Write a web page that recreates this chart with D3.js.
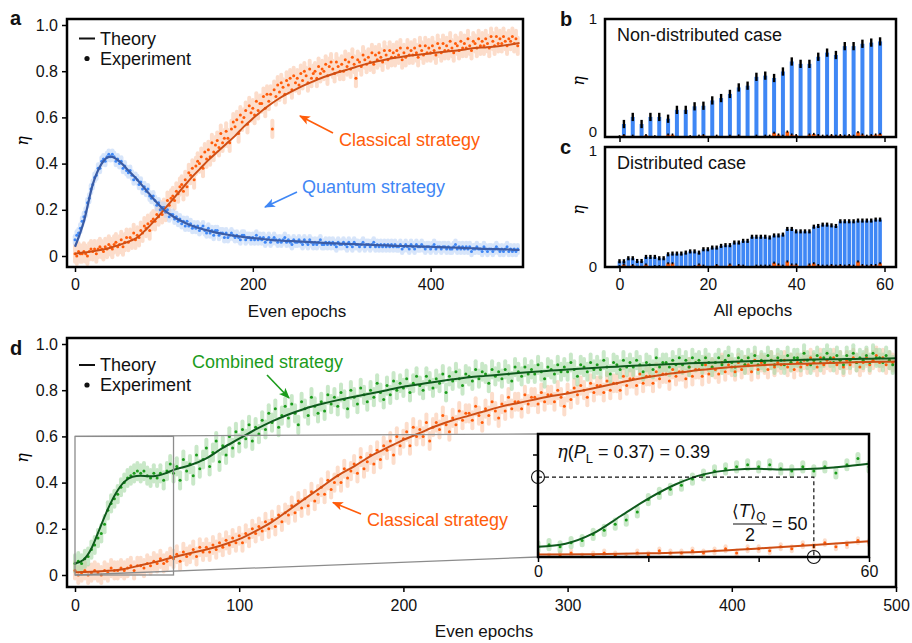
<!DOCTYPE html>
<html>
<head>
<meta charset="utf-8">
<script src="https://cdn.jsdelivr.net/npm/d3@7"></script>
<style>
  body { margin: 0; background: #fff; }
  svg { font-family: "Liberation Sans", Arial, sans-serif; }
</style>
</head>
<body>
<svg width="912" height="643"></svg>
<script>
// ---------- data ----------
var evenEpochs = d3.range(0, 500, 2);
var theoryEpochs = d3.range(0, 501, 10);
var combinedTheoryEpochs = [0, 5, 10, 15, 20, 25, 30, 35, 40, 45, 50, 55, 60].concat(d3.range(70, 501, 10));
var allEpochs = d3.range(0, 60);
var oddEpochs = d3.range(1, 60, 2);

// panel a, theory
var theoryAClassical = [0.01, 0.015, 0.02, 0.027, 0.036, 0.048, 0.062, 0.08, 0.115, 0.155, 0.2,
  0.245, 0.29, 0.335, 0.375, 0.415, 0.45, 0.485, 0.52, 0.56, 0.595, 0.628, 0.657, 0.683, 0.705, 0.725,
  0.743, 0.759, 0.775, 0.788, 0.8, 0.811, 0.823, 0.834, 0.843, 0.851, 0.858, 0.864, 0.869, 0.873, 0.877,
  0.882, 0.886, 0.89, 0.895, 0.9, 0.903, 0.906, 0.91, 0.916, 0.922];
var theoryAQuantum = [0.04, 0.15, 0.31, 0.4, 0.43, 0.41, 0.37, 0.33, 0.285, 0.24, 0.2,
  0.172, 0.15, 0.133, 0.12, 0.11, 0.1, 0.093, 0.087, 0.082, 0.078, 0.074, 0.07, 0.067, 0.065, 0.063,
  0.061, 0.059, 0.057, 0.055, 0.053, 0.052, 0.05, 0.049, 0.047, 0.046, 0.044, 0.043, 0.042, 0.041, 0.04,
  0.038, 0.037, 0.036, 0.034, 0.033, 0.031, 0.03, 0.029, 0.028, 0.026];

// panel a, experiment (even epochs)
var expAQuantum = [
  .07,.09,.10,.12,.15,.17,.19,.23,.25,.29,.31,.34,.35,.38,.38,.41,.42,.41,.43,.44,.43,.44,.43,.41,.42,
  .40,.41,.38,.39,.37,.36,.37,.35,.33,.34,.33,.31,.32,.29,.30,.28,.29,.26,.25,.26,.24,.22,.23,.20,.21,
  .21,.19,.20,.17,.18,.18,.16,.17,.15,.16,.14,.15,.13,.15,.13,.14,.12,.13,.12,.13,.11,.12,.13,.11,.10,
  .12,.10,.11,.09,.11,.11,.09,.10,.10,.08,.10,.08,.09,.10,.09,.08,.09,.08,.07,.09,.09,.07,.08,.08,.07,
  .08,.07,.09,.07,.08,.07,.08,.06,.07,.08,.06,.07,.08,.07,.06,.07,.06,.07,.08,.06,.07,.06,.05,.07,.06,
  .06,.07,.06,.05,.07,.06,.05,.07,.06,.05,.06,.05,.06,.07,.05,.05,.06,.05,.06,.05,.06,.05,.04,.06,.05,
  .05,.06,.05,.04,.06,.05,.04,.06,.05,.05,.04,.05,.06,.04,.05,.05,.04,.05,.06,.04,.05,.04,.05,.04,.05,
  .04,.05,.04,.05,.04,.05,.04,.04,.05,.03,.04,.05,.04,.03,.05,.04,.03,.05,.04,.04,.05,.04,.03,.04,.04,
  .03,.04,.05,.03,.04,.04,.03,.04,.04,.03,.04,.03,.03,.04,.05,.03,.04,.03,.04,.03,.04,.03,.04,.02,.03,
  .03,.04,.03,.03,.02,.04,.03,.02,.03,.03,.02,.03,.04,.03,.02,.03,.02,.03,.04,.02,.03,.02,.03,.02,.03];
var expAClassical = [
  .01,.00,.02,.01,.01,.02,.01,.00,.02,.03,.02,.03,.01,.03,.04,.03,.02,.04,.03,.05,.04,.03,.05,.06,.04,
  .05,.07,.04,.06,.08,.06,.08,.07,.10,.07,.09,.08,.11,.10,.13,.12,.14,.11,.15,.16,.15,.18,.17,.20,.18,
  .21,.19,.24,.22,.25,.26,.24,.28,.27,.30,.31,.28,.33,.30,.36,.35,.38,.33,.39,.41,.40,.43,.38,.45,.42,
  .46,.43,.49,.45,.48,.50,.47,.53,.49,.51,.54,.51,.49,.55,.58,.56,.59,.53,.61,.58,.60,.63,.57,.65,.62,
  .64,.61,.67,.63,.66,.66,.69,.64,.70,.67,.70,.55,.72,.69,.74,.71,.75,.73,.70,.76,.74,.77,.72,.78,.75,
  .77,.74,.79,.76,.80,.78,.75,.81,.77,.79,.80,.77,.82,.79,.81,.80,.83,.78,.82,.84,.81,.79,.84,.82,.80,
  .83,.80,.85,.82,.84,.81,.86,.83,.77,.85,.84,.82,.87,.85,.83,.86,.84,.88,.83,.87,.85,.88,.86,.84,.89,
  .87,.85,.89,.86,.88,.86,.89,.87,.90,.85,.88,.86,.90,.87,.89,.87,.90,.88,.86,.91,.89,.87,.91,.88,.90,
  .88,.91,.89,.87,.92,.90,.88,.92,.89,.91,.89,.93,.90,.88,.92,.91,.89,.93,.90,.92,.90,.94,.91,.89,.93,
  .92,.90,.94,.91,.93,.91,.94,.92,.90,.95,.93,.91,.95,.92,.94,.92,.95,.93,.91,.94,.93,.95,.92,.94,.91];

// panels b and c
var barsBQuantum = [0.11, 0.17, 0.11, 0.17, 0.17, 0.155, 0.23, 0.23, 0.26, 0.265, 0.31, 0.33, 0.365, 0.42, 0.435,
  0.51, 0.52, 0.5, 0.555, 0.64, 0.62, 0.62, 0.68, 0.715, 0.695, 0.77, 0.77, 0.79, 0.8, 0.81];
var barsBClassical = [0.005, 0.015, 0, 0.01, 0, 0, 0.015, 0, 0.005, 0, 0, 0.02, 0.02, 0, 0, 0, 0.005, 0, 0.01, 0.015,
  0, 0, 0.01, 0, 0, 0.01, 0, 0.012, 0, 0, 0, 0.01, 0, 0.01, 0.01, 0.035, 0.02, 0.01, 0.045, 0.02,
  0.015, 0, 0, 0.02, 0.025, 0.015, 0.01, 0.01, 0.015, 0.01, 0.015, 0.01, 0.015, 0.01, 0.04, 0.02, 0.01, 0.015, 0.02, 0.025];
var barsCQuantum = [0.048, 0.048, 0.073, 0.073, 0.05, 0.05, 0.084, 0.084, 0.084, 0.073, 0.073, 0.106, 0.112, 0.112, 0.112,
  0.12, 0.13, 0.13, 0.12, 0.148, 0.148, 0.162, 0.162, 0.176, 0.182, 0.182, 0.204, 0.204, 0.218, 0.218,
  0.252, 0.252, 0.252, 0.252, 0.246, 0.263, 0.263, 0.27, 0.317, 0.317, 0.297, 0.297, 0.297, 0.297, 0.336,
  0.342, 0.353, 0.353, 0.347, 0.342, 0.381, 0.381, 0.381, 0.381, 0.387, 0.387, 0.387, 0.387, 0.395, 0.395];
var barsCClassical = [0.005, 0.02, 0, 0.015, 0, 0, 0.02, 0, 0.005, 0.005, 0, 0.03, 0.03, 0, 0, 0, 0, 0.005, 0.02, 0.01,
  0, 0, 0.015, 0, 0, 0.02, 0, 0.015, 0.01, 0, 0, 0.01, 0.01, 0.01, 0.01, 0.035, 0.02, 0.01, 0.045, 0.02,
  0.02, 0, 0, 0.02, 0.03, 0.015, 0.01, 0.01, 0.015, 0.01, 0.015, 0.01, 0.015, 0.01, 0.045, 0.015, 0.01, 0.015, 0.015, 0.03];

// panel d, theory
var theoryDCombined = [0.05, 0.065, 0.115, 0.2, 0.285, 0.355, 0.403, 0.425, 0.43, 0.427, 0.43, 0.44, 0.455,
  0.475, 0.505, 0.55, 0.59, 0.63, 0.665, 0.695, 0.72, 0.74, 0.757, 0.772, 0.786, 0.8, 0.815, 0.826, 0.837,
  0.847, 0.856, 0.862, 0.868, 0.874, 0.88, 0.885, 0.89, 0.894, 0.898, 0.902, 0.906, 0.909, 0.912, 0.915,
  0.918, 0.92, 0.923, 0.925, 0.927, 0.929, 0.931, 0.933, 0.934, 0.935, 0.936, 0.937, 0.938];
var theoryDClassical = [0.012, 0.014, 0.018, 0.026, 0.042, 0.058, 0.077, 0.094, 0.11, 0.13, 0.155,
  0.19, 0.23, 0.28, 0.33, 0.38, 0.43, 0.47, 0.515, 0.55, 0.585, 0.615, 0.645, 0.67, 0.69, 0.71,
  0.73, 0.745, 0.76, 0.775, 0.786, 0.8, 0.815, 0.83, 0.845, 0.858, 0.869, 0.878, 0.887, 0.894, 0.9,
  0.905, 0.909, 0.912, 0.914, 0.916, 0.918, 0.92, 0.922, 0.923, 0.924];

// panel d, experiment (even epochs)
var expDCombined = [
  .05,.06,.05,.07,.08,.11,.13,.16,.18,.22,.28,.31,.33,.35,.38,.40,.42,.43,.44,.45,.44,.45,.43,.42,.44,
  .42,.44,.41,.45,.48,.44,.47,.41,.50,.45,.48,.43,.52,.46,.50,.55,.47,.53,.58,.49,.56,.52,.60,.55,.62,
  .57,.63,.59,.65,.58,.64,.61,.67,.63,.70,.66,.72,.64,.69,.73,.68,.74,.70,.65,.75,.72,.69,.77,.73,.70,
  .75,.71,.78,.74,.77,.73,.79,.76,.72,.80,.77,.74,.81,.78,.75,.80,.77,.83,.79,.76,.82,.78,.84,.80,.83,
  .81,.85,.79,.83,.86,.82,.80,.86,.84,.81,.85,.83,.87,.79,.86,.84,.88,.85,.82,.87,.86,.84,.89,.85,.88,
  .87,.83,.89,.86,.88,.85,.89,.87,.84,.90,.88,.86,.90,.87,.89,.87,.91,.88,.85,.90,.89,.87,.91,.88,.90,
  .88,.92,.89,.86,.91,.90,.88,.92,.89,.91,.89,.93,.90,.87,.92,.91,.89,.93,.90,.92,.90,.93,.91,.88,.92,
  .91,.89,.94,.90,.92,.92,.90,.93,.91,.94,.91,.93,.90,.94,.92,.93,.91,.94,.92,.90,.92,.94,.91,.93,.95,
  .92,.90,.94,.93,.91,.94,.92,.95,.91,.93,.92,.95,.93,.91,.94,.93,.91,.95,.92,.94,.94,.92,.96,.93,.91,
  .93,.95,.92,.94,.96,.94,.92,.95,.93,.91,.95,.93,.96,.92,.94,.93,.95,.92,.96,.94,.94,.92,.95,.93,.91];
var expDClassical = [
  .02,.00,.01,.02,.00,.01,.02,.01,.00,.02,.01,.03,.02,.02,.03,.02,.03,.04,.02,.04,.04,.03,.05,.04,.06,
  .05,.07,.05,.06,.08,.07,.09,.06,.10,.08,.09,.11,.08,.12,.10,.12,.10,.13,.11,.14,.12,.15,.13,.16,.14,
  .17,.14,.18,.16,.20,.18,.21,.19,.23,.20,.24,.21,.26,.23,.27,.26,.30,.27,.32,.29,.33,.30,.36,.32,.35,
  .38,.35,.41,.37,.40,.43,.40,.46,.42,.45,.48,.44,.51,.46,.49,.52,.48,.54,.50,.56,.54,.58,.52,.60,.56,
  .59,.62,.56,.64,.60,.63,.60,.66,.58,.64,.66,.63,.69,.65,.62,.68,.65,.71,.67,.70,.70,.67,.73,.69,.66,
  .72,.69,.75,.71,.68,.74,.71,.77,.72,.75,.75,.72,.78,.74,.77,.77,.74,.79,.75,.78,.78,.75,.80,.77,.73,
  .79,.76,.81,.78,.82,.80,.77,.83,.79,.82,.82,.79,.84,.80,.83,.83,.80,.86,.82,.85,.85,.82,.87,.83,.86,
  .86,.83,.88,.85,.87,.87,.84,.89,.86,.88,.88,.85,.90,.86,.89,.89,.86,.91,.87,.90,.89,.87,.92,.88,.91,
  .90,.88,.92,.89,.91,.91,.88,.93,.89,.92,.91,.89,.93,.90,.92,.91,.93,.90,.92,.89,.92,.90,.93,.91,.94,
  .92,.90,.94,.91,.93,.92,.94,.91,.93,.90,.93,.91,.94,.92,.90,.92,.94,.91,.93,.95,.92,.94,.91,.93,.92];

var inset = { epoch: 50, eta: 0.39 };

// ---------- style ----------
var blue = "#3f87f5", blueDark = "#3a5ca6", blueHalo = "#bed5f8";
var orange = "#ff5c0a", orangeDark = "#cf4e14", orangeHalo = "#fbc7aa";
var green = "#1c9c1c", greenDark = "#0e5a1c", greenHalo = "#a6d9a5";
var SERIF = "'DejaVu Serif', serif";

var svg = d3.select("svg");
var defs = svg.append("defs");

function marker(id, color) {
  defs
    .append("marker")
    .attr("id", id)
    .attr("viewBox", "0 0 10 10")
    .attr("refX", 9)
    .attr("refY", 5)
    .attr("markerWidth", 11)
    .attr("markerHeight", 11)
    .attr("markerUnits", "userSpaceOnUse")
    .attr("orient", "auto")
    .append("path")
    .attr("d", "M0,1 L10,5 L0,9 L2.5,5 Z")
    .attr("fill", color);
}
marker("arr-orange", orange);
marker("arr-blue", blue);
marker("arr-green", green);

function clip(id, x0, y0, x1, y1) {
  defs
    .append("clipPath")
    .attr("id", id)
    .append("rect")
    .attr("x", x0)
    .attr("y", y0)
    .attr("width", x1 - x0)
    .attr("height", y1 - y0);
}

function frame(x0, y0, x1, y1) {
  svg
    .append("rect")
    .attr("x", x0)
    .attr("y", y0)
    .attr("width", x1 - x0)
    .attr("height", y1 - y0)
    .attr("fill", "none")
    .attr("stroke", "#000")
    .attr("stroke-width", 2.5);
}

function styleAxis(g, size) {
  g.select(".domain").remove();
  g.attr("font-family", null).attr("font-size", size);
  g.selectAll(".tick line").attr("stroke", "#000").attr("stroke-width", 1.5);
  g.selectAll(".tick text").attr("fill", "#111");
}

function etaLabel(x, y) {
  svg
    .append("text")
    .attr("transform", "translate(" + x + "," + y + ") rotate(-90)")
    .attr("text-anchor", "middle")
    .attr("dy", "0.35em")
    .attr("font-family", SERIF)
    .attr("font-style", "italic")
    .attr("font-size", 16)
    .text("η");
}

function text(x, y, str, opts) {
  opts = opts || {};
  return svg
    .append("text")
    .attr("x", x)
    .attr("y", y)
    .attr("font-size", opts.size || 18)
    .attr("font-weight", opts.weight || null)
    .attr("text-anchor", opts.anchor || "start")
    .attr("fill", opts.color || "#111")
    .text(str);
}

function arrow(x1, y1, x2, y2, color, id) {
  svg
    .append("line")
    .attr("x1", x1)
    .attr("y1", y1)
    .attr("x2", x2)
    .attr("y2", y2)
    .attr("stroke", color)
    .attr("stroke-width", 1.6)
    .attr("marker-end", "url(#" + id + ")");
}

function halos(g, x, y, epochs, vals, err, color, w) {
  g.append("g")
    .attr("opacity", 0.6)
    .selectAll("line")
    .data(vals)
    .enter()
    .append("line")
    .attr("x1", function(d, i) { return x(epochs[i]); })
    .attr("x2", function(d, i) { return x(epochs[i]); })
    .attr("y1", function(d) { return y(d - err); })
    .attr("y2", function(d) { return y(d + err); })
    .attr("stroke", color)
    .attr("stroke-width", w)
    .attr("stroke-linecap", "round");
}

function dots(g, x, y, epochs, vals, color, r) {
  g.append("g")
    .selectAll("circle")
    .data(vals)
    .enter()
    .append("circle")
    .attr("cx", function(d, i) { return x(epochs[i]); })
    .attr("cy", function(d) { return y(d); })
    .attr("r", r)
    .attr("fill", color);
}

function theory(g, x, y, epochs, vals, color, w) {
  var line = d3
    .line()
    .x(function(d, i) { return x(epochs[i]); })
    .y(function(d) { return y(d); })
    .curve(d3.curveMonotoneX);
  g.append("path")
    .datum(vals)
    .attr("d", line)
    .attr("fill", "none")
    .attr("stroke", color)
    .attr("stroke-width", w);
}

function legend(x, y) {
  svg.append("line").attr("x1", x).attr("x2", x + 16).attr("y1", y).attr("y2", y)
    .attr("stroke", "#111").attr("stroke-width", 2);
  text(x + 21, y + 6, "Theory");
  svg.append("circle").attr("cx", x + 8).attr("cy", y + 20).attr("r", 2.6).attr("fill", "#111");
  text(x + 21, y + 26, "Experiment");
}

// ---------- panel a ----------
var xA = d3.scaleLinear().domain([0, 500]).range([75, 519.5]);
var yA = d3.scaleLinear().domain([0, 1]).range([256, 25]);
clip("clipA", 67, 19, 523, 267);
var gA = svg.append("g").attr("clip-path", "url(#clipA)");

halos(gA, xA, yA, evenEpochs, expAClassical, 0.035, orangeHalo, 4);
halos(gA, xA, yA, evenEpochs, expAQuantum, 0.016, blueHalo, 4.5);
dots(gA, xA, yA, evenEpochs, expAClassical, orange, 1.5);
dots(gA, xA, yA, evenEpochs, expAQuantum, blue, 1.5);
theory(gA, xA, yA, theoryEpochs, theoryAClassical, orangeDark, 2);
theory(gA, xA, yA, theoryEpochs, theoryAQuantum, blueDark, 2.2);

svg.append("g").attr("transform", "translate(67,0)")
  .call(d3.axisLeft(yA).tickValues([0, 0.2, 0.4, 0.6, 0.8, 1]).tickSize(5).tickPadding(4)
    .tickFormat(function(d) { return d === 0 ? "0" : d3.format(".1f")(d); }))
  .call(styleAxis, 16);
svg.append("g").attr("transform", "translate(0,267)")
  .call(d3.axisBottom(xA).tickValues([0, 200, 400]).tickSize(5).tickPadding(7))
  .call(styleAxis, 16);
frame(67, 19, 523, 267);
etaLabel(22, 141);
text(297, 317, "Even epochs", { size: 17, anchor: "middle" });
legend(79, 38.5);
text(339, 146, "Classical strategy", { color: orange });
arrow(333, 133, 300, 116, orange, "arr-orange");
text(302, 193, "Quantum strategy", { color: blue });
arrow(297, 192, 265, 207, blue, "arr-blue");
text(10, 25, "a", { size: 20, weight: "bold" });

// ---------- panels b, c ----------
var xBC = d3.scaleLinear().domain([0, 60]).range([619.5, 884.5]);
var step = xBC(1) - xBC(0);

function barPanel(top, bottom, quantEpochs, quantVals, quantW, quantErr, classVals, title, letter, showLabels) {
  var y = d3.scaleLinear().domain([0, 1]).range([bottom, top]);
  var g = svg.append("g");

  g.append("g").selectAll("rect").data(quantVals).enter().append("rect")
    .attr("x", function(d, i) { return xBC(quantEpochs[i]) - quantW / 2; })
    .attr("width", quantW)
    .attr("y", function(d) { return y(d); })
    .attr("height", function(d) { return y(0) - y(d); })
    .attr("fill", blue);
  g.append("g").selectAll("rect").data(quantVals).enter().append("rect")
    .attr("x", function(d, i) { return xBC(quantEpochs[i]) - 1.2; })
    .attr("width", 2.4)
    .attr("y", function(d) { return y(d + quantErr); })
    .attr("height", function(d) { return y(d - quantErr) - y(d + quantErr); })
    .attr("fill", "#000");

  var cls = classVals.filter(function(d) { return d > 0; });
  var clsEp = allEpochs.filter(function(e, i) { return classVals[i] > 0; });
  g.append("g").selectAll("rect").data(cls).enter().append("rect")
    .attr("x", function(d, i) { return xBC(clsEp[i]) - 1.8; })
    .attr("width", 3.6)
    .attr("y", function(d) { return y(d); })
    .attr("height", function(d) { return y(0) - y(d); })
    .attr("fill", orange);
  g.append("g").selectAll("rect").data(cls).enter().append("rect")
    .attr("x", function(d, i) { return xBC(clsEp[i]) - 0.8; })
    .attr("width", 1.6)
    .attr("y", function(d) { return y(d + 0.01); })
    .attr("height", function(d) { return y(Math.max(0, d - 0.008)) - y(d + 0.01); })
    .attr("fill", "#000");

  var ay = svg.append("g").attr("transform", "translate(605,0)")
    .call(d3.axisLeft(y).tickValues([0, 1]).tickSize(0).tickPadding(8).tickFormat(d3.format("d")))
    .call(styleAxis, 15);
  // keep the "0" of b and the "1" of c apart, as in the figure
  if (!showLabels) ay.selectAll(".tick text").filter(function(d) { return d === 0; }).attr("y", -5);
  else ay.selectAll(".tick text").filter(function(d) { return d === 1; }).attr("y", 4);

  var ax = svg.append("g").attr("transform", "translate(0," + bottom + ")")
    .call(d3.axisBottom(xBC).tickValues([0, 20, 40, 60]).tickSize(5).tickPadding(7))
    .call(styleAxis, 16);
  if (!showLabels) ax.selectAll(".tick text").remove();

  frame(605, top, 896, bottom);
  text(617, top + 22, title);
  text(560, top + 7, letter, { size: 20, weight: "bold" });
  etaLabel(578, (top + bottom) / 2 + 3);
}

barPanel(19, 137, oddEpochs, barsBQuantum, 4, 0.035, barsBClassical, "Non-distributed case", "b", false);
barPanel(147, 267, allEpochs, barsCQuantum, step - 0.8, 0.017, barsCClassical, "Distributed case", "c", true);
text(753, 316, "All epochs", { size: 17, anchor: "middle" });

// ---------- panel d ----------
var xD = d3.scaleLinear().domain([0, 500]).range([75, 896]);
var yD = d3.scaleLinear().domain([0, 1]).range([575, 344]);
clip("clipD", 67, 338, 896, 587);
var gD = svg.append("g").attr("clip-path", "url(#clipD)");

halos(gD, xD, yD, evenEpochs, expDClassical, 0.035, orangeHalo, 4);
halos(gD, xD, yD, evenEpochs, expDCombined, 0.035, greenHalo, 4);
dots(gD, xD, yD, evenEpochs, expDClassical, orange, 1.5);
dots(gD, xD, yD, evenEpochs, expDCombined, green, 1.5);
theory(gD, xD, yD, theoryEpochs, theoryDClassical, orangeDark, 2);
theory(gD, xD, yD, combinedTheoryEpochs, theoryDCombined, greenDark, 2);

svg.append("g").attr("transform", "translate(67,0)")
  .call(d3.axisLeft(yD).tickValues([0, 0.2, 0.4, 0.6, 0.8, 1]).tickSize(5).tickPadding(4)
    .tickFormat(function(d) { return d === 0 ? "0" : d3.format(".1f")(d); }))
  .call(styleAxis, 16);
svg.append("g").attr("transform", "translate(0,587)")
  .call(d3.axisBottom(xD).tickValues([0, 100, 200, 300, 400, 500]).tickSize(5).tickPadding(8))
  .call(styleAxis, 16);

// zoom box and connectors
var zx1 = xD(60), zy0 = yD(0.6), zy1 = yD(0);
var inX = d3.scaleLinear().domain([0, 60]).range([538, 869]);
var inY = d3.scaleLinear().domain([0, 0.6]).range([557, 434]);
svg.append("rect").attr("x", xD(0)).attr("y", zy0).attr("width", zx1 - xD(0)).attr("height", zy1 - zy0)
  .attr("fill", "none").attr("stroke", "#8c8c8c").attr("stroke-width", 1.3);
svg.append("line").attr("x1", xD(0)).attr("y1", zy0).attr("x2", inX(0)).attr("y2", inY(0.6))
  .attr("stroke", "#8c8c8c").attr("stroke-width", 1.3);
svg.append("line").attr("x1", xD(0)).attr("y1", zy1).attr("x2", inX(0)).attr("y2", inY(0))
  .attr("stroke", "#8c8c8c").attr("stroke-width", 1.3);

frame(67, 338, 896, 587);
etaLabel(22, 458);
text(484, 637, "Even epochs", { size: 17, anchor: "middle" });
legend(79, 365);
text(192, 368, "Combined strategy", { color: green });
arrow(267, 375, 289, 398, green, "arr-green");
text(367, 526, "Classical strategy", { color: orange });
arrow(361, 514, 333, 502.5, orange, "arr-orange");
text(10, 355, "d", { size: 20, weight: "bold" });

// ---------- inset ----------
svg.append("rect").attr("x", 538).attr("y", 434).attr("width", 331).attr("height", 123).attr("fill", "#fff");
clip("clipIn", 538, 434, 869, 557);
var gIn = svg.append("g").attr("clip-path", "url(#clipIn)");
var inEp = evenEpochs.filter(function(e) { return e <= 60; });
var inComb = expDCombined.slice(0, inEp.length);
var inClass = expDClassical.slice(0, inEp.length);
halos(gIn, inX, inY, inEp, inClass, 0.012, orangeHalo, 4);
halos(gIn, inX, inY, inEp, inComb, 0.02, greenHalo, 5);
dots(gIn, inX, inY, inEp, inClass, orange, 1.5);
dots(gIn, inX, inY, inEp, inComb, green, 1.5);
var thEpIn = theoryEpochs.filter(function(e) { return e <= 60; });
theory(gIn, inX, inY, thEpIn, theoryDClassical.slice(0, thEpIn.length), orangeDark, 2);
var cEpIn = combinedTheoryEpochs.filter(function(e) { return e <= 60; });
theory(gIn, inX, inY, cEpIn, theoryDCombined.slice(0, cEpIn.length), greenDark, 2);

svg.append("g").attr("transform", "translate(0,557)")
  .call(d3.axisBottom(inX).tickValues([0, 20, 40, 60]).tickSize(5).tickPadding(4)
    .tickFormat(function(d) { return d === 0 || d === 60 ? d : ""; }))
  .call(styleAxis, 16);
svg.append("g").attr("transform", "translate(538,0)")
  .call(d3.axisLeft(inY).tickValues([0.25, 0.5]).tickSize(5).tickFormat(""))
  .call(styleAxis, 16);

// dashed guide
svg.append("path")
  .attr("d", "M" + inX(0) + "," + inY(inset.eta) + "H" + inX(inset.epoch) + "V" + inY(0))
  .attr("fill", "none").attr("stroke", "#111").attr("stroke-width", 1.2).attr("stroke-dasharray", "4,3");
svg.append("circle").attr("cx", inX(0)).attr("cy", inY(inset.eta)).attr("r", 6.5)
  .attr("fill", "none").attr("stroke", "#111").attr("stroke-width", 1.1);
svg.append("circle").attr("cx", inX(inset.epoch)).attr("cy", inY(0)).attr("r", 6.5)
  .attr("fill", "none").attr("stroke", "#111").attr("stroke-width", 1.1);
frame(538, 434, 869, 557);

var t1 = svg.append("text").attr("x", 557).attr("y", 458).attr("font-size", 18).attr("fill", "#111");
t1.append("tspan").attr("font-family", SERIF).attr("font-style", "italic").text("η");
t1.append("tspan").text("(");
t1.append("tspan").attr("font-style", "italic").text("P");
t1.append("tspan").attr("font-size", 13).attr("dy", 5).text("L");
t1.append("tspan").attr("dy", -5).text(" = 0.37) = 0.39");

var t2 = svg.append("text").attr("x", 732).attr("y", 517).attr("font-size", 18).attr("fill", "#111");
t2.append("tspan").attr("font-family", "'DejaVu Sans'").attr("font-size", 17).text("⟨");
t2.append("tspan").attr("font-style", "italic").text("T");
t2.append("tspan").attr("font-family", "'DejaVu Sans'").attr("font-size", 17).text("⟩");
t2.append("tspan").attr("font-size", 12).attr("dy", 4).text("Q");
svg.append("line").attr("x1", 733).attr("x2", 767).attr("y1", 524).attr("y2", 524)
  .attr("stroke", "#111").attr("stroke-width", 1.2);
text(750, 541, "2", { anchor: "middle" });
text(772, 530, "= 50");
</script>
</body>
</html>
